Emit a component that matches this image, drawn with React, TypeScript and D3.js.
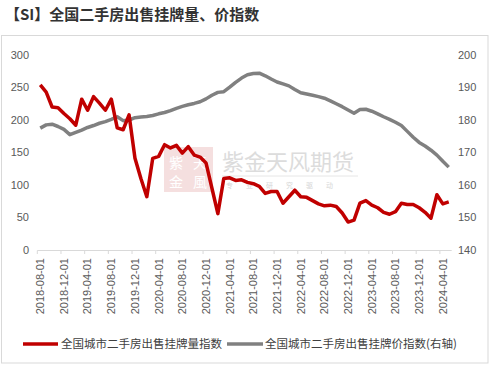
import React, { useEffect } from "react";
import { scaleBand, scaleLinear, line, curveLinear, timeMonth, timeFormat } from "d3";

// monthly categories 2018-08 .. 2024-05
const months = timeMonth.range(new Date(2018, 7, 1), new Date(2024, 5, 1)).map(timeFormat("%Y-%m-%d"));

const tickLabels = [
  "2018-08-01", "2018-12-01", "2019-04-01", "2019-08-01", "2019-12-01", "2020-04-01",
  "2020-08-01", "2020-12-01", "2021-04-01", "2021-08-01", "2021-12-01", "2022-04-01",
  "2022-08-01", "2022-12-01", "2023-04-01", "2023-08-01", "2023-12-01", "2024-04-01",
];

// 挂牌量指数 (left axis)
const listingVolume = [
  254, 243, 220, 219, 210, 202, 192, 232, 215, 236,
  226, 215, 232, 188, 185, 208, 141, 110, 82, 141,
  144, 162, 157, 161, 149, 159, 146, 143, 134, 95,
  56, 110, 111, 107, 108, 104, 102, 98, 87, 90,
  90, 72, 82, 92, 82, 81, 76, 71, 68, 69,
  67, 57, 43, 46, 72, 76, 69, 65, 58, 55,
  59, 72, 70, 70, 65, 58, 49, 85, 71, 74,
];

// 挂牌价指数 (right axis)
const listingPrice = [
  177.5, 178.5, 178.7, 178.0, 177.1, 175.5, 176.2, 176.9, 177.7, 178.3,
  179.0, 179.5, 180.2, 181.0, 179.8, 180.0, 180.7, 180.9, 181.1, 181.4,
  181.9, 182.3, 182.9, 183.6, 184.2, 184.7, 185.1, 185.6, 186.5, 187.6,
  188.5, 188.7, 190.1, 191.6, 192.9, 193.9, 194.3, 194.4, 193.6, 192.6,
  191.7, 191.1, 190.5, 189.4, 188.4, 188.0, 187.6, 187.2, 186.7, 185.9,
  185.0, 184.1, 183.1, 182.1, 183.2, 183.3, 182.7, 181.9, 181.0, 180.2,
  179.3, 178.3, 176.5, 174.7, 173.1, 172.0, 170.7, 169.2, 167.3, 165.5,
];

const leftTicks = [0, 50, 100, 150, 200, 250, 300];
const rightTicks = [140, 150, 160, 170, 180, 190, 200];

const RED = "#C00000";
const GRAY = "#808080";
const cjk = "'Noto Sans CJK SC', 'Noto Sans', sans-serif";
const num = "'Liberation Sans', Arial, sans-serif";

export default function App() {
  useEffect(() => {
    document.body.style.margin = "0";
  }, []);

  const x = scaleBand<string>().domain(months).range([37.3, 451.7]).padding(0);
  const cx = (d: string) => (x(d) as number) + x.bandwidth() / 2;
  const yL = scaleLinear().domain([0, 300]).range([250, 55]);
  const yR = scaleLinear().domain([140, 200]).range([250, 55]);

  const redPath = line<number>()
    .x((_, i) => cx(months[i]))
    .y((d) => yL(d))
    .curve(curveLinear)(listingVolume);
  const grayPath = line<number>()
    .x((_, i) => cx(months[i]))
    .y((d) => yR(d))
    .curve(curveLinear)(listingPrice);

  return (
    <svg width={490} height={366} style={{ display: "block" }}>
      <rect width={490} height={366} fill="#fff" />
      <text x={5} y={20} fontFamily={cjk} fontSize={15} fontWeight="bold" fill="#333">
        【SI】全国二手房出售挂牌量、价指数
      </text>
      <rect x={1.5} y={35.5} width={486.5} height={327.5} fill="none" stroke="#d9d9d9" />

      {/* watermark */}
      <g>
        <rect x={164} y={147} width={49} height={45} fill="#f5dfdf" />
        <text x={176} y={168} textAnchor="middle" fontFamily={cjk} fontSize={14} fill="#fff">紫</text>
        <text x={176} y={187} textAnchor="middle" fontFamily={cjk} fontSize={14} fill="#fff">金</text>
        <text x={200} y={168} textAnchor="middle" fontFamily={cjk} fontSize={14} fill="#fff">天</text>
        <text x={200} y={187} textAnchor="middle" fontFamily={cjk} fontSize={14} fill="#fff">風</text>
        <text x={222} y={170} fontFamily={cjk} fontSize={22} fill="#dcdcdc">紫金天风期货</text>
        <line x1={222} x2={358} y1={176} y2={176} stroke="#e6e6e6" />
        <text x={226} y={188} fontFamily={cjk} fontSize={7} fill="#d6d6d6" letterSpacing={13}>专业研究驱动</text>
      </g>

      {/* left axis labels */}
      {leftTicks.map((t) => (
        <text key={"l" + t} x={29} y={yL(t)} dy="0.35em" textAnchor="end" fontFamily={num} fontSize={11} fill="#595959">
          {t}
        </text>
      ))}
      {/* right axis labels */}
      {rightTicks.map((t) => (
        <text key={"r" + t} x={458} y={yR(t)} dy="0.35em" textAnchor="start" fontFamily={num} fontSize={11} fill="#595959">
          {t}
        </text>
      ))}

      {/* x axis */}
      <line x1={37.3} x2={451.7} y1={250.5} y2={250.5} stroke="#d9d9d9" />
      {tickLabels.map((lab) => (
        <g key={lab}>
          <line x1={x(lab) as number} x2={x(lab) as number} y1={250.5} y2={254} stroke="#d9d9d9" />
          <text
            transform={`translate(${cx(lab)},258) rotate(-90)`}
            dy="0.35em"
            textAnchor="end"
            fontFamily={num}
            fontSize={11}
            fill="#595959"
          >
            {lab}
          </text>
        </g>
      ))}

      <path d={grayPath || ""} fill="none" stroke={GRAY} strokeWidth={3.5} strokeLinejoin="round" />
      <path d={redPath || ""} fill="none" stroke={RED} strokeWidth={3.5} strokeLinejoin="round" />

      {/* legend */}
      <line x1={23} x2={58} y1={344} y2={344} stroke={RED} strokeWidth={3.5} />
      <text x={61} y={344} dy="0.35em" fontFamily={cjk} fontSize={11.5} fill="#404040">全国城市二手房出售挂牌量指数</text>
      <line x1={227} x2={263} y1={344} y2={344} stroke={GRAY} strokeWidth={3.5} />
      <text x={265} y={344} dy="0.35em" fontFamily={cjk} fontSize={11.5} fill="#404040">全国城市二手房出售挂牌价指数(右轴)</text>
    </svg>
  );
}
